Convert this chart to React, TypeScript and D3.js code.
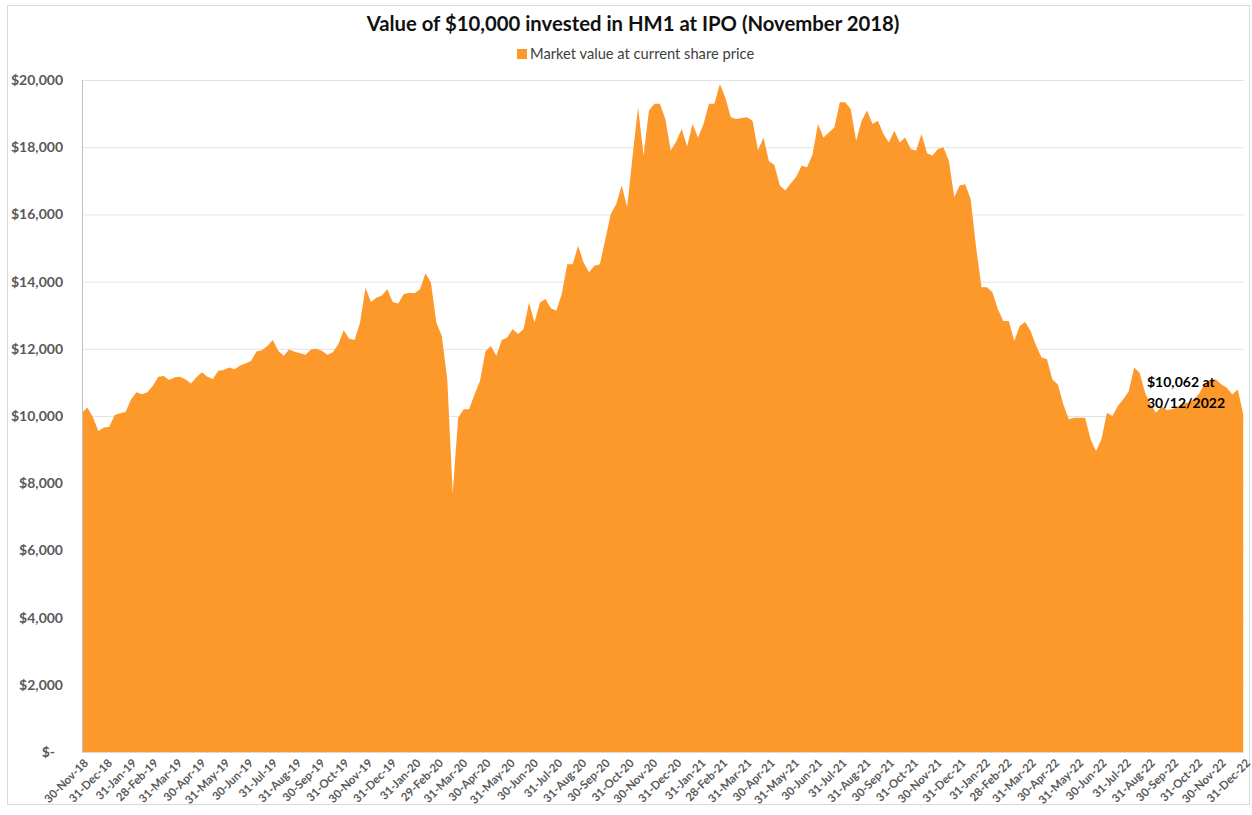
import * as d3 from 'd3';
import React, { useEffect, useRef } from 'react';

// weekly (Friday) market value of the $10,000 holding
const startDate = '2018-11-30';
const weeklyValues = [
  10100, 10250, 9960, 9550, 9660, 9680, 10030, 10080, 10120, 10500,
  10710, 10650, 10710, 10900, 11170, 11190, 11070, 11150, 11170, 11090,
  10970, 11150, 11300, 11170, 11100, 11350, 11370, 11440, 11390, 11500,
  11560, 11640, 11920, 11960, 12080, 12260, 11940, 11790, 11980, 11910,
  11870, 11820, 11980, 12000, 11940, 11820, 11900, 12130, 12550, 12300,
  12260, 12780, 13820, 13390, 13520, 13590, 13770, 13390, 13350, 13620,
  13670, 13650, 13770, 14250, 13970, 12780, 12380, 11090, 7700, 9950,
  10200, 10200, 10640, 11040, 11930, 12080, 11790, 12260, 12340, 12590,
  12440, 12590, 13380, 12790, 13380, 13480, 13210, 13130, 13630, 14520,
  14520, 15070, 14570, 14280, 14470, 14520, 15270, 16010, 16310, 16860,
  16210, 17750, 19190, 17750, 19090, 19290, 19290, 18840, 17900, 18170,
  18540, 18020, 18690, 18290, 18690, 19290, 19290, 19880, 19480, 18890,
  18840, 18870, 18890, 18790, 17900, 18290, 17580, 17470, 16860, 16710,
  16920, 17120, 17450, 17400, 17780, 18690, 18290, 18440, 18590, 19340,
  19340, 19140, 18190, 18790, 19090, 18690, 18790, 18390, 18140, 18490,
  18140, 18290, 17950, 17900, 18390, 17820, 17750, 17950, 18000, 17600,
  16510, 16860, 16900, 16460, 15020, 13830, 13830, 13680, 13180, 12830,
  12830, 12230, 12680, 12800, 12530, 12100, 11740, 11690, 11090, 10940,
  10350, 9900, 9950, 9950, 9950, 9310, 8960, 9310, 10100, 10000,
  10300, 10500, 10740, 11440, 11290, 10690, 10350, 10100, 10280, 10180,
  10200, 10280, 10380, 10400, 10500, 10690, 10990, 11070, 11090, 10940,
  10840, 10640, 10790, 10062,
];

const yTicks = [0, 2000, 4000, 6000, 8000, 10000, 12000, 14000, 16000, 18000, 20000];
const axisStart = '2018-11-30';
const axisEnd = '2022-12-31';
const titleText = 'Value of $10,000 invested in HM1 at IPO (November 2018)';
const legendText = 'Market value at current share price';
const noteLines = ['$10,062 at', '30/12/2022'];

const ORANGE = '#FD982B';
const FONT = 'Lato, "Open Sans", sans-serif';

const App = () => {
  const ref = useRef<SVGSVGElement>(null);
  const width = 1252;
  const height = 815;
  const margin = { top: 80, right: 8, bottom: 63, left: 82 };

  useEffect(() => {
    const svg = d3.select(ref.current);
    svg.selectAll('*').remove();

    const parse = d3.timeParse('%Y-%m-%d');
    const start = parse(startDate)!;
    const data = weeklyValues.map((v, i) => ({ date: d3.timeWeek.offset(start, i), value: v }));

    const x = d3.scaleTime()
      .domain([parse(axisStart)!, parse(axisEnd)!])
      .range([margin.left, width - margin.right]);
    const y = d3.scaleLinear()
      .domain([0, 20000])
      .range([height - margin.bottom, margin.top]);

    // outer frame
    svg.append('rect')
      .attr('x', 7.5).attr('y', 5.5)
      .attr('width', 1242).attr('height', 799)
      .attr('fill', '#fff')
      .attr('stroke', '#d9d9d9');

    svg.append('text')
      .attr('x', 633).attr('y', 31)
      .attr('text-anchor', 'middle')
      .style('font-family', FONT).style('font-weight', 700).style('font-size', '20.3px')
      .attr('fill', '#111')
      .text(titleText);

    // legend
    svg.append('rect')
      .attr('x', 517).attr('y', 49).attr('width', 10).attr('height', 10)
      .attr('fill', ORANGE);
    svg.append('text')
      .attr('x', 530).attr('y', 59)
      .style('font-family', FONT).style('font-size', '14.7px')
      .attr('fill', '#404040')
      .text(legendText);

    // gridlines
    svg.append('g')
      .selectAll('line')
      .data(yTicks.filter(t => t > 0))
      .enter().append('line')
      .attr('x1', margin.left).attr('x2', width - margin.right)
      .attr('y1', d => y(d) + 0.5).attr('y2', d => y(d) + 0.5)
      .attr('stroke', '#e3e3e3');

    const area = d3.area<{ date: Date; value: number }>()
      .x(d => x(d.date))
      .y0(y(0))
      .y1(d => y(d.value));

    svg.append('path')
      .datum(data)
      .attr('d', area)
      .attr('fill', ORANGE);

    // axis lines
    svg.append('line')
      .attr('x1', margin.left + 0.5).attr('x2', margin.left + 0.5)
      .attr('y1', y(20000)).attr('y2', y(0))
      .attr('stroke', '#bfbfbf');
    svg.append('line')
      .attr('x1', margin.left).attr('x2', width - margin.right)
      .attr('y1', y(0) + 0.5).attr('y2', y(0) + 0.5)
      .attr('stroke', '#d9d9d9');

    const fmt = d3.format(',');
    svg.append('g')
      .selectAll('text')
      .data(yTicks)
      .enter().append('text')
      .attr('x', d => (d === 0 ? 55 : 63))
      .attr('y', d => y(d))
      .attr('dy', '0.35em')
      .attr('text-anchor', 'end')
      .style('font-family', FONT).style('font-weight', 700).style('font-size', '14px')
      .attr('fill', '#595959')
      .text(d => (d === 0 ? '$-' : `$${fmt(d)}`));

    // month-end tick labels
    const monthEnds = d3.timeMonth
      .range(d3.timeDay.offset(parse(axisStart)!, 1), d3.timeDay.offset(parse(axisEnd)!, 2))
      .map(d => d3.timeDay.offset(d, -1));
    const tickFmt = d3.timeFormat('%d-%b-%y');
    svg.append('g')
      .selectAll('text')
      .data(monthEnds)
      .enter().append('text')
      .attr('transform', d => `translate(${x(d) + 4},${y(0) + 9}) rotate(-45)`)
      .attr('text-anchor', 'end')
      .attr('dy', '0.35em')
      .style('font-family', FONT).style('font-weight', 700).style('font-size', '11.5px')
      .attr('fill', '#595959')
      .text(d => tickFmt(d));

    // end-value note
    svg.append('g')
      .selectAll('text')
      .data(noteLines)
      .enter().append('text')
      .attr('x', 1147)
      .attr('y', (d, i) => 387 + i * 21)
      .style('font-family', FONT).style('font-weight', 700).style('font-size', '14px')
      .attr('fill', '#000')
      .text(d => d);
  }, []);

  return (
    <svg
      ref={ref}
      width={width}
      height={height}
      style={{ position: 'absolute', left: 0, top: 0, background: '#fff' }}
    />
  );
};

export default App;
